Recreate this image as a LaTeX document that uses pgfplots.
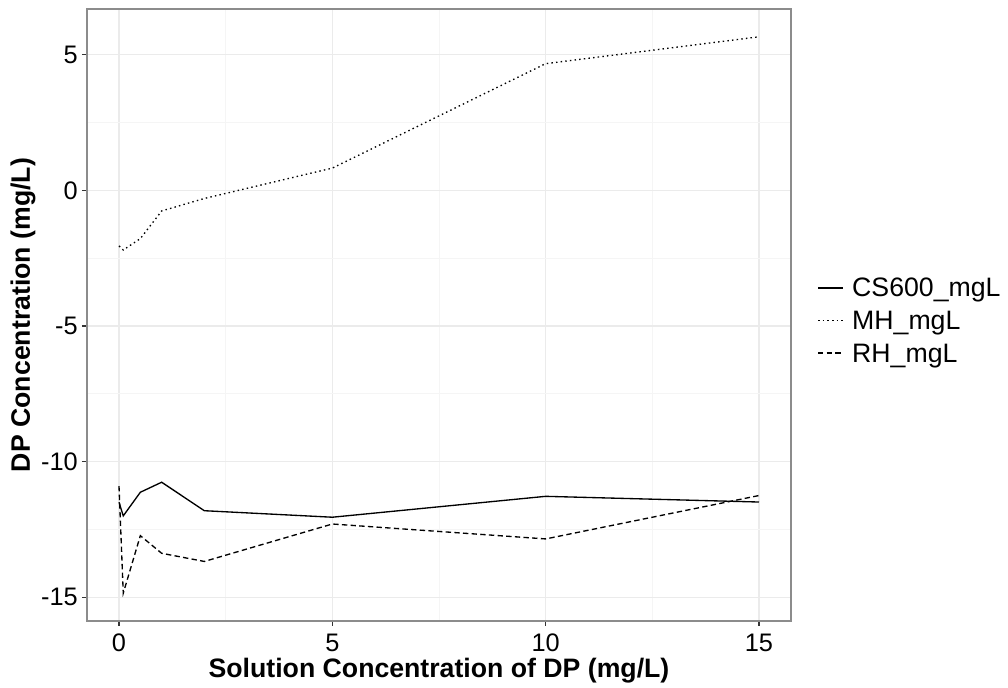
\documentclass[border=0pt]{standalone}
\usepackage{fontspec}
\setmainfont{Liberation Sans}
\usepackage{pgfplots}
\pgfplotsset{compat=1.18}

\definecolor{gridmaj}{HTML}{EBEBEB}
\definecolor{gridmin}{HTML}{F5F5F5}
\definecolor{panelframe}{HTML}{8C8C8C}
\definecolor{tickc}{HTML}{333333}

\begin{document}
\begin{tikzpicture}[x=0.75pt,y=0.75pt]
\useasboundingbox (-87,-67) rectangle (921,621);
\begin{axis}[
  at={(0,0)}, anchor=south west,
  scale only axis, width=528pt, height=459pt,
  clip=false,
  xmin=-0.75, xmax=15.75, ymin=-15.8755, ymax=6.6855,
  xtick={0,5,10,15}, xticklabels={0,5,10,15},
  ytick={-15,-10,-5,0,5}, yticklabels={-15,-10,-5,0,5},
  minor xtick={2.5,7.5,12.5}, minor ytick={-12.5,-7.5,-2.5,2.5},
  grid=both,
  major grid style={gridmaj, line width=1.1pt},
  minor grid style={gridmin, line width=0.6pt},
  axis line style={panelframe, line width=1pt},
  tick align=outside, xtick pos=left, ytick pos=left,
  major tick length=3.75pt, minor tick length=0pt,
  tick style={tickc, line width=0.8pt},
  tick label style={font=\fontsize{19}{19}\selectfont, text=black},
  yticklabel style={anchor=east, inner sep=0pt, xshift=-3pt},
  xticklabel style={anchor=north, inner sep=0pt, yshift=-6pt},
  every axis x label/.style={at={(axis description cs:0.5,0)}, anchor=center, yshift=-37pt},
  every axis y label/.style={at={(axis description cs:0,0.5)}, xshift=-48pt, rotate=90, anchor=center},
  label style={font=\fontsize{20}{20}\selectfont\bfseries},
  xlabel={Solution Concentration of DP (mg/L)},
  ylabel={DP Concentration (mg/L)},
]
% CS600
\addplot[black, line width=1pt] coordinates {
  (0,-11.5) (0.1,-12.0) (0.5,-11.13) (1,-10.76) (2,-11.81) (5,-12.05) (10,-11.28) (15,-11.49)};
% MH
\addplot[black, line width=1pt, dash pattern=on 1.1pt off 2.4pt] coordinates {
  (0,-2.05) (0.1,-2.2) (0.5,-1.78) (1,-0.76) (2,-0.3) (5,0.82) (10,4.67) (15,5.66)};
% RH
\addplot[black, line width=1pt, dash pattern=on 4pt off 2.5pt] coordinates {
  (0,-10.9) (0.1,-14.85) (0.5,-12.73) (1,-13.38) (2,-13.68) (5,-12.3) (10,-12.85) (15,-11.25)};

% legend
\draw[black, line width=1pt] (axis description cs:1.0384,0.5441) -- (axis description cs:1.0739,0.5441);
\draw[black, line width=1pt, dash pattern=on 1.1pt off 2.4pt] (axis description cs:1.0384,0.4910) -- (axis description cs:1.0739,0.4910);
\draw[black, line width=1pt, dash pattern=on 4pt off 2.5pt] (axis description cs:1.0384,0.4379) -- (axis description cs:1.0739,0.4379);
\node[anchor=base west, inner sep=0pt, font=\fontsize{20}{20}\selectfont] at (axis description cs:1.0866,0.5294) {CS600\_mgL};
\node[anchor=base west, inner sep=0pt, font=\fontsize{20}{20}\selectfont] at (axis description cs:1.0866,0.4755) {MH\_mgL};
\node[anchor=base west, inner sep=0pt, font=\fontsize{20}{20}\selectfont] at (axis description cs:1.0866,0.4216) {RH\_mgL};
\end{axis}
\end{tikzpicture}
\end{document}
